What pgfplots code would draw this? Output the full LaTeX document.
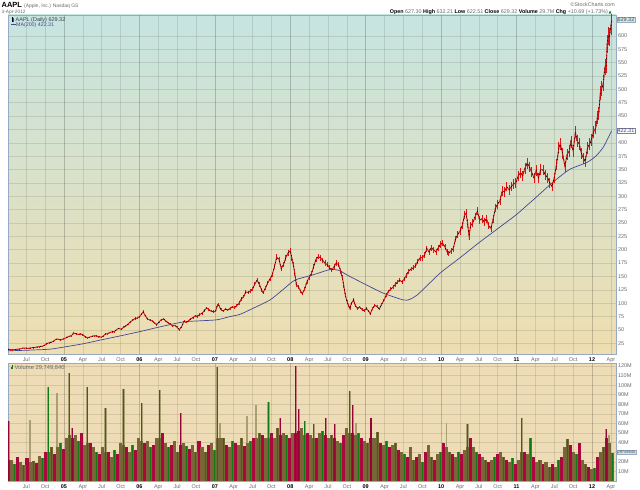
\documentclass[border=0pt]{standalone}
\usepackage{pgfplots}
\pgfplotsset{compat=1.18}
\usepackage{pgfplotstable}
\usepackage{fontspec}
\setmainfont{Liberation Sans}
\newfontfamily\dejavu{DejaVu Sans}
\definecolor{bgtop}{RGB}{198,228,224}
\definecolor{bgmid}{RGB}{234,232,180}
\definecolor{bgbot}{RGB}{238,222,176}
\definecolor{volbg}{RGB}{238,220,182}
\definecolor{vred}{RGB}{172,6,62}
\definecolor{vbrown}{RGB}{124,100,56}
\definecolor{volive}{RGB}{112,104,52}
\definecolor{vgreen}{RGB}{16,122,20}
\definecolor{vlight}{RGB}{168,160,112}
\definecolor{vpink}{RGB}{196,128,128}
\definecolor{marine}{RGB}{70,70,150}
\definecolor{frame}{RGB}{150,170,195}
\definecolor{lbl}{RGB}{105,105,105}
\definecolor{pred}{RGB}{220,20,20}
\definecolor{boxfill}{RGB}{205,232,232}
\newcommand\yr[1]{\textcolor{black}{\bfseries #1}}
\newcommand\smallfnt{\fontsize{5.5}{6}\selectfont}

\pgfplotstableread{
x y
2004.26 13.8
2004.29 13.2
2004.32 12.9
2004.35 13.4
2004.38 13.9
2004.41 14.2
2004.44 15.6
2004.47 16.3
2004.50 16.0
2004.53 15.3
2004.56 16.4
2004.59 17.0
2004.62 17.4
2004.65 18.2
2004.68 19.0
2004.71 19.4
2004.74 21.0
2004.77 24.5
2004.80 26.0
2004.83 27.0
2004.86 28.5
2004.89 32.5
2004.92 33.0
2004.95 31.5
2004.98 32.4
2005.01 34.0
2005.04 36.5
2005.07 38.0
2005.10 39.5
2005.13 44.0
2005.16 43.0
2005.19 41.5
2005.22 42.5
2005.25 41.0
2005.28 37.5
2005.31 35.5
2005.34 36.5
2005.37 38.0
2005.40 39.0
2005.43 38.7
2005.46 37.5
2005.49 36.5
2005.52 38.5
2005.55 42.5
2005.58 43.0
2005.61 45.5
2005.64 46.5
2005.67 47.0
2005.70 51.0
2005.73 53.0
2005.76 51.0
2005.79 55.0
2005.82 57.0
2005.85 61.0
2005.88 65.0
2005.91 68.0
2005.94 71.5
2005.97 72.0
2006.00 74.5
2006.03 80.0
2006.05 84.0
2006.08 76.0
2006.11 70.0
2006.14 68.5
2006.17 66.5
2006.20 63.0
2006.23 60.0
2006.26 65.0
2006.29 69.0
2006.32 70.5
2006.35 67.0
2006.38 63.0
2006.41 61.0
2006.44 57.5
2006.47 58.5
2006.50 55.0
2006.53 50.5
2006.56 56.0
2006.59 66.0
2006.62 64.0
2006.65 67.0
2006.68 70.5
2006.71 73.0
2006.74 76.5
2006.77 75.0
2006.80 79.0
2006.83 81.0
2006.86 86.0
2006.89 91.0
2006.92 88.0
2006.95 85.0
2006.98 84.0
2007.01 85.0
2007.03 95.0
2007.05 97.0
2007.08 88.0
2007.11 85.5
2007.14 89.0
2007.17 87.0
2007.20 90.0
2007.23 93.0
2007.26 92.0
2007.29 95.0
2007.32 100.0
2007.35 108.0
2007.38 112.0
2007.41 121.0
2007.44 120.0
2007.47 123.0
2007.50 126.0
2007.53 136.0
2007.56 143.0
2007.59 135.0
2007.62 125.0
2007.64 120.0
2007.67 128.0
2007.70 138.0
2007.73 145.0
2007.76 153.0
2007.79 168.0
2007.82 186.0
2007.85 182.0
2007.88 165.0
2007.91 172.0
2007.94 185.0
2007.97 194.0
2008.00 198.0
2008.02 185.0
2008.04 172.0
2008.06 156.0
2008.08 135.0
2008.11 130.0
2008.14 122.0
2008.16 118.0
2008.19 126.0
2008.22 140.0
2008.25 148.0
2008.28 155.0
2008.31 168.0
2008.34 182.0
2008.37 187.0
2008.40 185.0
2008.43 180.0
2008.46 175.0
2008.49 172.0
2008.52 166.0
2008.55 162.0
2008.58 168.0
2008.61 175.0
2008.64 172.0
2008.67 160.0
2008.69 148.0
2008.71 132.0
2008.73 115.0
2008.75 104.0
2008.77 96.0
2008.79 90.0
2008.81 100.0
2008.84 106.0
2008.86 96.0
2008.89 90.0
2008.92 93.0
2008.95 88.0
2008.98 86.0
2009.01 90.0
2009.04 85.0
2009.06 80.0
2009.09 90.0
2009.12 96.0
2009.15 94.0
2009.18 89.0
2009.21 98.0
2009.24 105.0
2009.27 115.0
2009.30 122.0
2009.33 126.0
2009.36 130.0
2009.39 135.0
2009.42 139.0
2009.45 143.0
2009.48 140.0
2009.51 145.0
2009.54 152.0
2009.57 160.0
2009.60 164.0
2009.63 166.0
2009.66 170.0
2009.69 178.0
2009.72 185.0
2009.75 185.0
2009.78 190.0
2009.81 202.0
2009.84 196.0
2009.87 204.0
2009.90 200.0
2009.93 196.0
2009.96 203.0
2009.99 210.0
2010.02 212.0
2010.05 205.0
2010.08 196.0
2010.10 193.0
2010.13 198.0
2010.16 202.0
2010.19 220.0
2010.22 228.0
2010.25 235.0
2010.28 245.0
2010.31 265.0
2010.33 268.0
2010.35 250.0
2010.37 225.0
2010.39 245.0
2010.42 250.0
2010.45 262.0
2010.48 272.0
2010.51 255.0
2010.54 258.0
2010.57 252.0
2010.60 258.0
2010.63 245.0
2010.66 240.0
2010.69 258.0
2010.72 278.0
2010.75 285.0
2010.78 292.0
2010.81 310.0
2010.84 308.0
2010.87 318.0
2010.90 312.0
2010.93 318.0
2010.96 323.0
2010.99 325.0
2011.02 338.0
2011.05 344.0
2011.08 338.0
2011.11 352.0
2011.14 362.0
2011.17 355.0
2011.20 345.0
2011.23 335.0
2011.26 348.0
2011.29 335.0
2011.32 350.0
2011.35 349.0
2011.38 340.0
2011.41 335.0
2011.44 325.0
2011.47 318.0
2011.50 335.0
2011.53 360.0
2011.56 390.0
2011.58 398.0
2011.61 380.0
2011.64 356.0
2011.67 378.0
2011.70 385.0
2011.72 402.0
2011.75 385.0
2011.78 420.0
2011.80 404.0
2011.83 398.0
2011.86 380.0
2011.89 370.0
2011.91 365.0
2011.94 390.0
2011.97 398.0
2011.99 405.0
2012.02 420.0
2012.05 428.0
2012.07 447.0
2012.09 455.0
2012.11 493.0
2012.13 502.0
2012.15 512.0
2012.17 542.0
2012.19 545.0
2012.20 585.0
2012.22 600.0
2012.23 598.0
2012.25 618.0
2012.26 629.32
}\pricetab

\pgfplotstableread{
x y
2004.26 11
2004.50 12
2004.81 14
2005.00 18
2005.25 24
2005.48 31
2005.75 39
2006.01 47
2006.25 55
2006.58 65
2006.80 67
2007.03 69
2007.20 75
2007.33 79
2007.50 90
2007.73 106
2007.90 125
2008.06 143
2008.30 153
2008.53 163
2008.65 161
2008.75 153
2008.97 137
2009.23 119
2009.50 106
2009.58 107
2009.68 115
2009.85 138
2010.00 158
2010.25 185
2010.50 213
2010.68 232
2010.85 250
2011.00 266
2011.25 297
2011.48 326
2011.70 350
2011.93 363
2012.05 375
2012.15 392
2012.26 422.31
}\matab

% volume base bars (millions)
\pgfplotstableread{
x v
2004.27 22
2004.39 25
2004.51 24
2004.63 19
2004.75 30
2004.87 28
2004.99 33
2005.11 45
2005.23 50
2005.35 40
2005.47 28
2005.59 30
2005.71 28
2005.83 35
2005.95 32
2006.07 40
2006.19 38
2006.31 50
2006.43 38
2006.55 38
2006.67 33
2006.79 42
2006.91 38
2007.15 38
2007.27 40
2007.39 36
2007.51 45
2007.63 48
2007.75 50
2007.87 48
2007.99 45
2008.07 50
2008.11 52
2008.23 50
2008.35 45
2008.47 48
2008.59 45
2008.71 48
2008.83 50
2008.95 45
2009.07 45
2009.19 40
2009.31 35
2009.43 32
2009.55 25
2009.67 25
2009.79 30
2009.91 22
2010.03 40
2010.15 28
2010.27 28
2010.39 45
2010.51 28
2010.63 20
2010.75 28
2010.87 22
2010.99 18
2011.11 30
2011.23 25
2011.35 18
2011.47 18
2011.59 25
2011.71 38
2011.83 40
2011.95 15
2012.07 25
2012.19 45
}\volred

\pgfplotstableread{
x v
2004.31 22
2004.43 20
2004.55 20
2004.67 26
2004.79 30
2004.91 35
2005.03 45
2005.15 48
2005.27 38
2005.39 35
2005.51 35
2005.63 25
2005.75 40
2005.87 30
2005.99 45
2006.11 42
2006.23 45
2006.35 40
2006.47 42
2006.59 40
2006.71 38
2006.83 35
2006.95 40
2007.07 45
2007.19 35
2007.31 38
2007.43 40
2007.55 45
2007.67 45
2007.79 45
2007.91 50
2008.03 50
2008.15 55
2008.27 48
2008.39 50
2008.51 45
2008.63 42
2008.75 55
2008.87 48
2008.99 42
2009.11 45
2009.23 38
2009.35 38
2009.47 30
2009.59 35
2009.71 28
2009.83 38
2009.95 28
2010.07 35
2010.19 25
2010.31 32
2010.43 35
2010.55 25
2010.67 22
2010.79 30
2010.91 20
2011.03 22
2011.15 28
2011.27 20
2011.39 20
2011.51 15
2011.63 35
2011.75 30
2011.87 22
2011.99 12
2012.11 30
2012.23 40
}\volbrown

\pgfplotstableread{
x v
2004.35 18
2004.47 17
2004.59 21
2004.71 24
2004.83 35
2004.95 40
2005.07 48
2005.19 42
2005.31 40
2005.43 30
2005.55 30
2005.67 32
2005.79 38
2005.91 38
2006.03 42
2006.15 35
2006.27 45
2006.39 35
2006.51 30
2006.63 36
2006.75 30
2006.87 30
2006.99 32
2007.03 45
2007.11 45
2007.23 42
2007.35 45
2007.47 42
2007.59 50
2007.71 45
2007.83 55
2007.95 48
2008.19 48
2008.31 45
2008.43 52
2008.55 48
2008.67 40
2008.79 50
2008.91 50
2009.03 40
2009.15 51
2009.27 42
2009.39 40
2009.51 28
2009.63 22
2009.75 20
2009.87 25
2009.99 30
2010.11 30
2010.23 30
2010.35 35
2010.47 30
2010.59 22
2010.71 25
2010.83 25
2010.95 24
2011.07 30
2011.19 45
2011.31 22
2011.43 15
2011.55 22
2011.67 44
2011.79 28
2011.91 18
2012.03 14
2012.15 35
2012.27 29.7
}\vololive

% volume spikes (thin)
\pgfplotstableread{
x v
2004.27 63
2005.11 55
2006.55 71
2007.87 66
2008.07 120
2008.11 75
2008.47 66
2008.59 59
2008.83 79
2009.07 66
2012.19 54
}\spred

\pgfplotstableread{
x v
2004.55 64
2004.91 92
2007.07 60
2007.43 68
2007.55 79
2008.87 60
2010.07 61
2012.23 48
}\splight

\pgfplotstableread{
x v
2004.79 98
2005.07 113
2005.31 98
2005.55 76
2005.79 96
2006.03 81
2006.27 95
2007.03 119
2007.71 82
2008.19 63
2008.31 59
2008.79 94
2010.35 59
2011.07 66
}\spgreen

\pgfplotsset{
  stock/.style={
    scale only axis, width=608bp,
    xmin=2004.258, xmax=2012.318,
    xtick={2004.5,2004.75,2005,2005.25,2005.5,2005.75,2006,2006.25,2006.5,2006.75,2007,2007.25,2007.5,2007.75,2008,2008.25,2008.5,2008.75,2009,2009.25,2009.5,2009.75,2010,2010.25,2010.5,2010.75,2011,2011.25,2011.5,2011.75,2012,2012.25},
    xticklabels={Jul,Oct,\yr{05},Apr,Jul,Oct,\yr{06},Apr,Jul,Oct,\yr{07},Apr,Jul,Oct,\yr{08},Apr,Jul,Oct,\yr{09},Apr,Jul,Oct,\yr{10},Apr,Jul,Oct,\yr{11},Apr,Jul,Oct,\yr{12},Apr},
    xticklabel style={font=\smallfnt, text=lbl, yshift=-0.5bp},
    ytick pos=right,
    yticklabel style={font=\smallfnt, text=lbl, anchor=west, xshift=-1.5bp},
    /pgf/number format/assume math mode=true,
    tick style={draw=none},
    grid=major,
    major grid style={draw=black, opacity=0.1, line width=0.5bp},
    extra x ticks={2005,2006,2007,2008,2009,2010,2011,2012},
    extra x tick labels={},
    extra x tick style={grid style={draw=black, opacity=0.18, line width=0.6bp}},
    extra y tick labels={},
    axis line style={draw=frame, line width=0.5bp},
  }
}

\begin{document}
\begin{tikzpicture}[x=1bp,y=1bp]
\useasboundingbox (0,0) rectangle (640,490);

% price panel
\begin{axis}[stock,
  at={(8bp,475bp)}, anchor=north west, height=339bp,
  ymin=5, ymax=639,
  ytick={25,50,75,100,125,150,175,200,225,250,275,300,325,350,375,400,450,475,500,525,550,575,600},
  extra y ticks={425},
  axis background/.style={top color=bgtop, middle color=bgmid, bottom color=bgbot},
]
\addplot[draw=marine, line width=0.7bp, smooth, tension=0.4] table[x=x,y=y]{\matab};
\addplot[draw=pred, line width=0.9bp,
  error bars/.cd, y dir=both, y fixed relative=0.028,
  error mark=none, error bar style={draw=pred, line width=0.7bp}] table[x=x,y=y]{\pricetab};
\addplot[draw=black, line width=0.7bp, dash pattern=on 1bp off 2.6bp] table[x=x,y=y]{\pricetab};
\end{axis}

% volume panel
\begin{axis}[stock,
  at={(8bp,126.5bp)}, anchor=north west, height=117.5bp,
  ymin=0, ymax=122.6,
  ytick={10,20,40,50,60,70,80,90,100,110,120},
  yticklabels={10M,20M,40M,50M,60M,70M,80M,90M,100M,110M,120M},
  extra y ticks={30},
  axis background/.style={fill=volbg},
]
\addplot[ycomb, draw=vlight, line width=1.8bp] table[x=x,y=v]{\splight};
\addplot[ycomb, draw=vlight, line width=2.2bp] table[x=x,y=v]{\spgreen};
\addplot[ycomb, draw=vpink, line width=2.0bp] table[x=x,y=v]{\spred};
\addplot[ycomb, draw=vred, line width=3.05bp] table[x=x,y=v]{\volred};
\addplot[ycomb, draw=vbrown, line width=3.05bp] table[x=x,y=v]{\volbrown};
\addplot[ycomb, draw=volive, line width=3.05bp] table[x=x,y=v]{\vololive};
\addplot[ycomb, draw=vgreen, line width=1.0bp] table[x=x,y=v]{\vololive};
\addplot[ycomb, draw=vgreen, line width=1.1bp] table[x=x,y=v]{\spgreen};
\addplot[ycomb, draw=vred!85!black, line width=1.1bp] table[x=x,y=v]{\spred};
\end{axis}

% right dotted axis lines
\draw[frame, densely dotted, line width=0.6bp] (616,136) -- (616,475);
\draw[frame, densely dotted, line width=0.6bp] (616,9) -- (616,126.5);

% header
\node[anchor=west, inner sep=0pt] at (1.5,485) {\fontsize{7.5}{8}\selectfont\bfseries AAPL\ \mdseries\fontsize{5}{6}\selectfont\textcolor{lbl}{(Apple, Inc.) Nasdaq GS}};
\node[anchor=west, inner sep=0pt] at (1.5,477.8) {\fontsize{4.8}{5}\selectfont\textcolor{lbl}{3-Apr-2012}};
\node[anchor=east, inner sep=0pt] at (615,485.5) {\fontsize{5.3}{6}\selectfont\textcolor{lbl}{\copyright StockCharts.com}};
\node[anchor=east, inner sep=0pt] at (612,477.8) {\fontsize{5.4}{6}\selectfont
  \textbf{Open} \textcolor{lbl}{627.30} \textbf{High} \textcolor{lbl}{632.21} \textbf{Low} \textcolor{lbl}{622.51} \textbf{Close} \textcolor{lbl}{629.32} \textbf{Volume} \textcolor{lbl}{29.7M} \textbf{Chg} \textcolor{lbl}{+10.69 (+1.73\%)}\,{\dejavu\fontsize{4}{5}\selectfont\textcolor{vgreen}{▲}}};

% legends
\draw[black, line width=0.5bp] (12,468) -- (12,472.5);
\draw[pred, line width=0.5bp] (13.6,467.5) -- (13.6,471.5);
\node[anchor=west, inner sep=0pt] at (15.5,470.3) {\fontsize{5.5}{6}\selectfont\textcolor{black!75}{AAPL (Daily) 629.32}};
\draw[marine, line width=0.8bp] (11,465.2) -- (16,465.2);
\node[anchor=west, inner sep=0pt] at (16,465.2) {\fontsize{5.3}{6}\selectfont\textcolor{marine}{MA(200) 422.31}};

\fill[vgreen] (10.5,120.5) rectangle (11.7,123.2);
\fill[vgreen] (12.2,120.5) rectangle (13.4,124.5);
\node[anchor=west, inner sep=0pt] at (14.5,122.5) {\fontsize{5.8}{6}\selectfont\textcolor{lbl}{Volume 29,749,840}};

% value boxes
\node[anchor=west, draw=frame, fill=boxfill, inner sep=0.8bp, line width=0.5bp] at (616.5,470) {\fontsize{5.5}{6}\selectfont\textcolor{black!70}{629.32}};
\node[anchor=west, draw=marine!70, fill=white!85!boxfill, inner sep=0.8bp, line width=0.5bp] at (616.5,359) {\fontsize{5.5}{6}\selectfont\textcolor{black!70}{422.31}};
\node[anchor=west, draw=frame, fill=boxfill, inner sep=0.8bp, line width=0.5bp] at (616.5,38) {\fontsize{4}{5}\selectfont\textcolor{black!70}{29749840}};
\end{tikzpicture}
\end{document}
